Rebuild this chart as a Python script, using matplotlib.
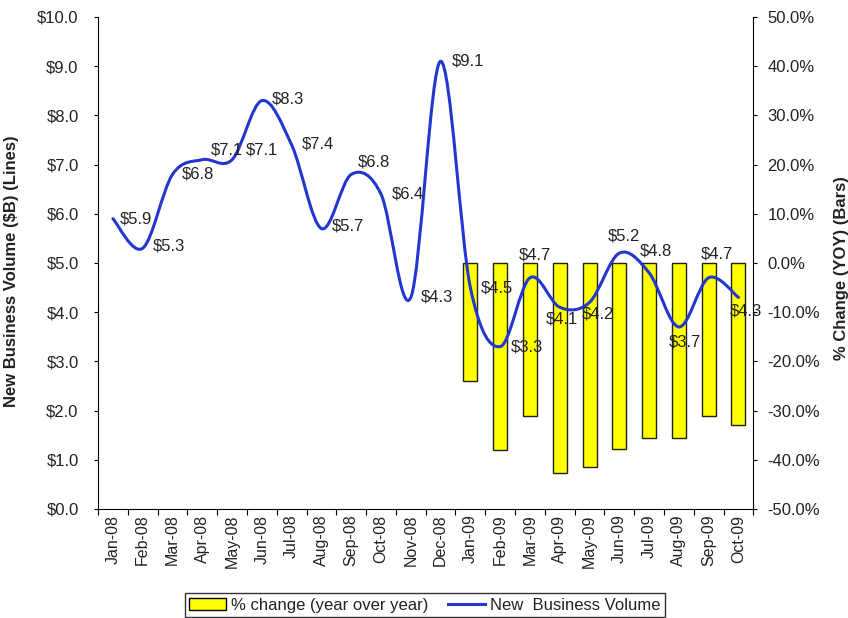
#!/usr/bin/env python

# matplotlib and numpy to draw the combo chart
import matplotlib
matplotlib.use("Agg")
import matplotlib.pyplot as plt
import numpy as np
from matplotlib.path import Path
from matplotlib.patches import PathPatch, Patch
from matplotlib.lines import Line2D
from matplotlib.ticker import FuncFormatter, FixedLocator

plt.rcParams['font.family'] = ['Liberation Sans', 'DejaVu Sans']

# months on the category axis
months = ['Jan-08', 'Feb-08', 'Mar-08', 'Apr-08', 'May-08', 'Jun-08', 'Jul-08',
          'Aug-08', 'Sep-08', 'Oct-08', 'Nov-08', 'Dec-08', 'Jan-09', 'Feb-09',
          'Mar-09', 'Apr-09', 'May-09', 'Jun-09', 'Jul-09', 'Aug-09', 'Sep-09',
          'Oct-09']
# new business volume, $B (line)
volume = [5.9, 5.3, 6.8, 7.1, 7.1, 8.3, 7.4, 5.7, 6.8, 6.4, 4.3, 9.1,
          4.5, 3.3, 4.7, 4.1, 4.2, 5.2, 4.8, 3.7, 4.7, 4.3]
# year over year % change, only shown for 2009 months (bars)
yoy_months = months[12:]
yoy_change = [-24.0, -38.0, -31.0, -42.7, -41.4, -37.9, -35.5, -35.5, -31.0, -33.0]

# where each value label sits relative to its point (pixels, horizontal align)
label_offsets = [(7, 0, 'left'), (10, 2, 'left'), (9, 0, 'left'), (8, 10, 'left'),
                 (14, 10, 'left'), (10, 2, 'left'), (10, 1, 'left'), (10, 3, 'left'),
                 (7, 12, 'left'), (11, 0, 'left'), (10, 0, 'left'), (11, 0, 'left'),
                 (10, 0, 'left'), (11, 0, 'left'), (5, 23, 'center'), (2, -12, 'center'),
                 (8, -12, 'center'), (5, 17, 'center'), (7, 22, 'center'),
                 (6, -15, 'center'), (8, 24, 'center'), (7, -14, 'center')]

LINE_COLOR = '#2236d0'
BAR_COLOR = '#ffff00'
TEXT_COLOR = '#222222'


def smooth_path(xs, ys):
    # Excel style smoothed line: cubic bezier through every point
    pts = np.column_stack([xs, ys]).astype(float)
    padded = np.vstack([pts[0], pts, pts[-1]])
    verts = [pts[0]]
    codes = [Path.MOVETO]
    for i in range(len(pts) - 1):
        p_prev, p0, p1, p_next = padded[i], padded[i + 1], padded[i + 2], padded[i + 3]
        verts += [p0 + (p1 - p_prev) / 6.0, p1 - (p_next - p0) / 6.0, p1]
        codes += [Path.CURVE4] * 3
    return Path(verts, codes)


def main():
    fig = plt.figure(figsize=(8.48, 6.18), dpi=100)
    ax = fig.add_axes([0.1156, 0.1764, 0.7728, 0.7961])
    ax2 = ax.twinx()

    x = np.arange(len(months))
    bar_x = [months.index(m) for m in yoy_months]

    # bars on the right hand scale
    ax2.bar(bar_x, yoy_change, width=0.47, color=BAR_COLOR, edgecolor='#222200',
            linewidth=1.0)
    ax2.set_ylim(-50, 50)
    ax2.yaxis.set_major_locator(FixedLocator(np.arange(-50, 51, 10)))
    ax2.yaxis.set_major_formatter(FuncFormatter(lambda v, p: '%.1f%%' % v))
    ax2.set_ylabel('% Change (YOY) (Bars)', fontsize=12, fontweight='bold',
                   color=TEXT_COLOR)
    ax2.yaxis.set_label_coords(1.123, 0.49)

    # line on the left hand scale, drawn above the bars
    ax.set_zorder(ax2.get_zorder() + 1)
    ax.patch.set_visible(False)
    ax.add_patch(PathPatch(smooth_path(x, volume), fill=False, edgecolor=LINE_COLOR,
                           linewidth=2.2, capstyle='round', joinstyle='round'))
    for xi, v, (dx, dy, ha) in zip(x, volume, label_offsets):
        ax.annotate('\\$%.1f' % v, (xi, v), xytext=(dx, dy), textcoords='offset pixels',
                    ha=ha, va='center', fontsize=12, color=TEXT_COLOR)

    ax.set_xlim(-0.5, len(months) - 0.5)
    ax.set_ylim(0, 10)
    ax.yaxis.set_major_locator(FixedLocator(np.arange(0, 11, 1)))
    ax.yaxis.set_major_formatter(FuncFormatter(lambda v, p: '\\$%.1f' % v))
    ax.set_ylabel('New Business Volume ($B) (Lines)', fontsize=12, fontweight='bold',
                  color=TEXT_COLOR)
    ax.yaxis.set_label_coords(-0.1206, 0.483)

    # ticks between categories, labels at the centres
    ax.set_xticks(np.arange(-0.5, len(months), 1.0))
    ax.set_xticklabels([])
    ax.set_xticks(x, minor=True)
    ax.set_xticklabels(months, minor=True, rotation=90, fontsize=11.5, color=TEXT_COLOR)
    ax.tick_params(axis='x', which='minor', length=0, pad=4)
    ax.tick_params(axis='x', which='major', direction='out', length=4)
    ax.tick_params(axis='y', direction='out', length=3, labelsize=12, pad=11,
                   labelcolor=TEXT_COLOR)
    ax2.tick_params(axis='y', direction='out', length=3, labelsize=12, pad=7,
                    labelcolor=TEXT_COLOR)

    for a in (ax, ax2):
        a.spines['top'].set_visible(False)
    ax.spines['right'].set_visible(False)
    ax2.spines['left'].set_visible(False)
    ax2.spines['bottom'].set_visible(False)

    handles = [Patch(facecolor=BAR_COLOR, edgecolor='black', linewidth=1.0),
               Line2D([0], [0], color=LINE_COLOR, linewidth=2.2)]
    leg = fig.legend(handles, ['% change (year over year)', 'New  Business Volume'],
                     loc='lower center', bbox_to_anchor=(0.501, 0.002), ncol=2,
                     frameon=True, fancybox=False, fontsize=12, borderpad=0.25,
                     handlelength=2.2, handletextpad=0.3, columnspacing=1.2,
                     borderaxespad=0)
    leg.get_frame().set_edgecolor('black')
    leg.get_frame().set_linewidth(1.0)
    for t in leg.get_texts():
        t.set_color(TEXT_COLOR)

    fig.savefig('out.png', dpi=100)


if __name__ == '__main__':
    main()
